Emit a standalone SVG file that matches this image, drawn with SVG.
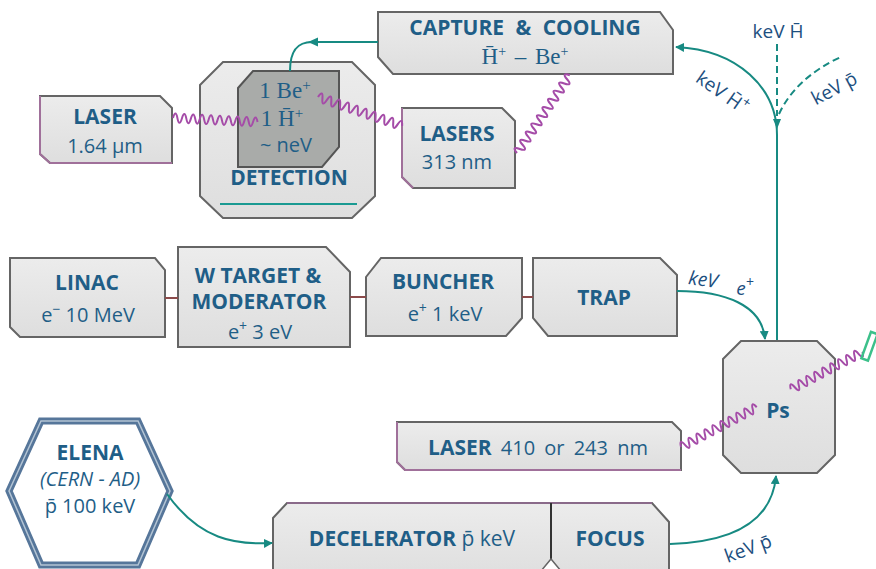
<svg xmlns="http://www.w3.org/2000/svg" width="876" height="569" viewBox="0 0 876 569">
<defs>
<linearGradient id="boxg" x1="0" y1="0" x2="0" y2="1">
<stop offset="0" stop-color="#ececec"/><stop offset="1" stop-color="#dedede"/>
</linearGradient>
<marker id="ah" viewBox="0 0 10 10" refX="9" refY="5" markerWidth="9" markerHeight="9" markerUnits="userSpaceOnUse" orient="auto">
<path d="M0,0 L10,5 L0,10 Z" fill="#178a82"/>
</marker>
<path id="wv" d="M0,0 q2.25,-9 4.5,0 t4.5,0 t4.5,0 t4.5,0 t4.5,0 t4.5,0 t4.5,0 t4.5,0 t4.5,0 t4.5,0 t4.5,0 t4.5,0 t4.5,0 t4.5,0 t4.5,0 t4.5,0 t4.5,0 t4.5,0 t4.5,0"/>
</defs>
<style>
.box{fill:url(#boxg);stroke:#656565;stroke-width:2}
.lp{fill:none;stroke:#a0709a;stroke-width:2}
.t{font-family:"Open Sans","Liberation Sans",sans-serif;fill:#1f5e87;text-anchor:middle;font-size:20px}
.b{font-weight:700;font-size:21px}
.s{font-family:"Liberation Serif","DejaVu Serif",serif;fill:#1f5e87;text-anchor:middle;font-size:23px}
.k{font-family:"Open Sans","Liberation Sans",sans-serif;fill:#1d4f80;font-size:19px;text-anchor:middle}
.c{fill:none;stroke:#178a82;stroke-width:2}
.w{fill:none;stroke:#a54ca8;stroke-width:2}
.br{stroke:#8c4b4b;stroke-width:2}
</style>

<g id="capture">
<polygon class="box" points="378,12 660,12 673,30 673,74 393,74 378,57"/>
<text class="t b" x="525" y="35" font-size="21" word-spacing="6">CAPTURE &amp; COOLING</text>
<text class="s" x="525" y="64" word-spacing="3">H̄<tspan font-size="14" dy="-8">+</tspan><tspan dy="8"> – Be</tspan><tspan font-size="14" dy="-8">+</tspan></text>
</g>

<g id="detection">
<polygon class="box" points="200,85 223,62 352,62 375,85 375,196 352,218 223,218 200,196"/>
<polygon fill="#a9aba9" stroke="#555" stroke-width="2" points="238,88 253,71 339,71 339,147 322,167 238,167"/>
<text class="s" x="285" y="98">1 Be<tspan font-size="15" dy="-8">+</tspan></text>
<text class="s" x="282" y="126">1 H̄<tspan font-size="15" dy="-8">+</tspan></text>
<text class="t" x="286" y="152" font-size="22">~  neV</text>
<text class="t b" x="289" y="185">DETECTION</text>
<line x1="220" y1="204" x2="357" y2="204" stroke="#1a9a92" stroke-width="2"/>
</g>

<g id="laser164">
<polygon class="box" points="40,96 160,96 172,108 172,163 50,163 40,154"/>
<polyline class="lp" points="40,96 40,154 50,163 172,163"/>
<text class="t b" x="105" y="124">LASER</text>
<text class="t" x="105" y="153">1.64 µm</text>
</g>

<g id="lasers313">
<polygon class="box" points="402,108 502,108 515,121 515,188 413,188 402,177"/>
<polyline class="lp" points="402,108 402,177 413,188"/>
<text class="t b" x="457" y="141">LASERS</text>
<text class="t" x="457" y="169">313 nm</text>
</g>

<g id="linac">
<polygon class="box" points="10,258 155,258 165,270 165,337 20,337 10,327"/>
<text class="t b" x="87" y="290">LINAC</text>
<text class="t" x="88" y="322">e<tspan font-size="14" dy="-8">−</tspan><tspan dy="8">  10  MeV</tspan></text>
</g>

<g id="wtarget">
<polygon class="box" points="178,247 326,247 350,272 350,347 178,347"/>
<text class="t b" x="258" y="283">W  TARGET &amp;</text>
<text class="t b" x="259" y="309">MODERATOR</text>
<text class="t" x="260" y="339">e<tspan font-size="14" dy="-8">+</tspan><tspan dy="8">  3  eV</tspan></text>
</g>

<g id="buncher">
<polygon class="box" points="366,277 381,258 522,258 522,318 506,336 366,336"/>
<text class="t b" x="443" y="289">BUNCHER</text>
<text class="t" x="445" y="321">e<tspan font-size="14" dy="-8">+</tspan><tspan dy="8">  1  keV</tspan></text>
</g>

<g id="trap">
<polygon class="box" points="533,258 660,258 677,275 677,336 548,336 533,318"/>
<text class="t b" x="604" y="305">TRAP</text>
</g>

<g id="ps">
<polygon class="box" points="723,359 741,341 817,341 835,359 835,455 817,473 741,473 723,455"/>
<text class="t b" x="778" y="418" font-size="22">Ps</text>
</g>

<g id="laser410">
<polygon class="box" points="397,422 672,422 681,431 681,470 405,470 397,462"/>
<polyline class="lp" points="397,422 397,462 405,470 681,470"/>
<text class="t" x="538" y="455" word-spacing="4"><tspan font-weight="700" font-size="21">LASER</tspan> 410 or 243 nm</text>
</g>

<g id="elena">
<polygon points="9,491 41,421 138,421 170,491 138,565 41,565" fill="#fff" stroke="#56769a" stroke-width="7" stroke-linejoin="miter"/>
<polygon points="9,491 41,421 138,421 170,491 138,565 41,565" fill="none" stroke="#b3c4d4" stroke-width="1.5"/>
<text class="t b" x="90" y="460" font-size="20">ELENA</text>
<text class="t" x="90" y="486" font-size="19" font-style="italic">(CERN - AD)</text>
<text class="t" x="90" y="513" font-size="19">p̄  100 keV</text>
</g>

<g id="decelerator">
<polygon class="box" points="273,518 287,503 652,503 669,522 669,580 273,580"/>
<line x1="287" y1="503" x2="652" y2="503" stroke="#8a6a8a" stroke-width="2"/>
<line x1="551" y1="503" x2="551" y2="560" stroke="#333" stroke-width="2"/>
<polygon points="541,571 551,559 561,571" fill="#fff" stroke="#656565" stroke-width="1.5"/>
<text class="t b" x="412" y="546">DECELERATOR  <tspan font-weight="400">p̄   keV</tspan></text>
<text class="t b" x="610" y="546">FOCUS</text>
</g>

<g id="connectors">
<path class="c" d="M378,42 H312 C298,42 290,50 290,71"/>
<polygon points="308,42 318,37.5 318,46.5" fill="#178a82"/>
<path class="c" d="M777,340 V135 C777,88 738,50 676,47" marker-end="url(#ah)"/>
<polygon points="777,129 773,119 781,119" fill="#178a82"/>
<path class="c" d="M777,44 V116" stroke-dasharray="7,4"/>
<path class="c" d="M779,114 C790,90 812,70 841,57" stroke-dasharray="7,4"/>
<path class="c" d="M677,291 C725,291 762,305 765,339" marker-end="url(#ah)"/>
<path class="c" d="M167,494 C200,540 235,545 272,543" marker-end="url(#ah)"/>
<path class="c" d="M670,544 C735,542 772,520 776,476" marker-end="url(#ah)"/>
<line class="br" x1="165" y1="298" x2="178" y2="298"/>
<line class="br" x1="350" y1="297" x2="366" y2="297"/>
<line class="br" x1="522" y1="297" x2="533" y2="297"/>
<use href="#wv" class="w" transform="translate(173,118) rotate(2.7) scale(0.99,1)"/>
<use href="#wv" class="w" transform="translate(318,97) rotate(19) scale(1.04,1)"/>
<use href="#wv" class="w" transform="translate(517,153) rotate(-55.8) scale(1.1,1)"/>
<g transform="translate(681,447) rotate(-27.7)">
<path class="w" d="M0,0 q2.25,-9 4.5,0 t4.5,0 t4.5,0 t4.5,0 t4.5,0 t4.5,0 t4.5,0 t4.5,0 t4.5,0 t4.5,0 t4.5,0 t4.5,0 t4.5,0 t4.5,0 t4.5,0 t4.5,0 t4.5,0 t4.5,0 t4.5,0"/>
<path class="w" d="M124,0 q2.25,-9 4.5,0 t4.5,0 t4.5,0 t4.5,0 t4.5,0 t4.5,0 t4.5,0 t4.5,0 t4.5,0 t4.5,0 t4.5,0 t4.5,0 t4.5,0 t4.5,0 t4.5,0 t4.5,0 t4.5,0 t4.5,0"/>
</g>
<rect x="866" y="332" width="7" height="28" fill="none" stroke="#3cc08a" stroke-width="2.5" transform="rotate(20 869 346)"/>
</g>

<g id="labels">
<text class="k" x="778" y="38">keV H̄</text>
<text class="k" x="722" y="99" transform="rotate(35 722 93)">keV  H̄<tspan font-size="14" dy="-8">+</tspan></text>
<text class="k" x="834" y="95" transform="rotate(-28 834 88)">keV p̄</text>
<text class="k" x="703" y="286" font-style="italic" transform="rotate(8 703 280)">keV</text>
<text class="k" x="745" y="295" font-style="italic">e<tspan font-size="14" dy="-8">+</tspan></text>
<text class="k" x="748" y="555" transform="rotate(-20 748 548)">keV p̄</text>
</g>
</svg>
